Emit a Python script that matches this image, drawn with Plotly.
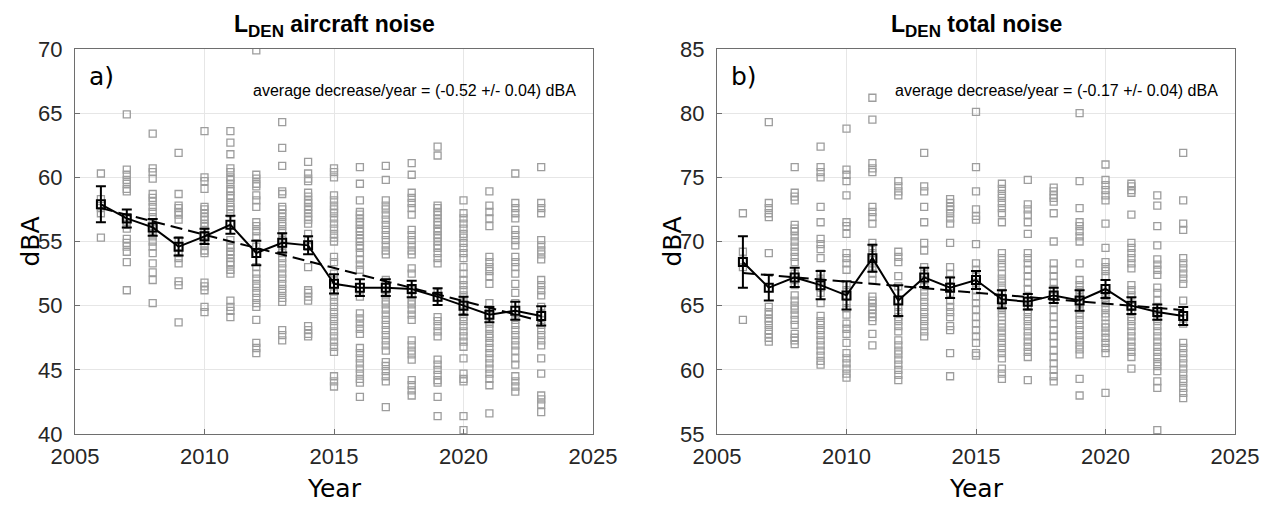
import plotly.graph_objects as go

# Page is 1271x506; the HTML body adds an 8px margin, so the figure is
# offset by that margin and every page-pixel position is shifted accordingly.
PAGE_W, PAGE_H = 1271, 506
BODY = 8
FW, FH = PAGE_W - BODY, PAGE_H - BODY


def fx(px):
    return (px - BODY) / FW


def fy(py):
    return 1 - (py - BODY) / FH


years = list(range(2006, 2024))

# ---------- a) aircraft noise: individual values per year ----------
air_pts = {
    2006: [60.3, 58.3, 57.6, 57.2, 55.3],
    2007: [64.9, 60.6, 60.2, 59.8, 59.5, 59.1, 58.9, 56.9, 56.5, 56.3, 56.0, 55.2, 54.9, 54.6, 54.2, 53.4, 51.2],
    2008: [63.4, 60.7, 60.4, 59.9, 58.7, 58.4, 58.1, 57.7, 57.3, 56.9, 56.5, 56.2, 55.8, 55.4, 55.0, 54.6, 54.1, 53.3, 52.6, 52.0, 50.2],
    2009: [61.9, 58.7, 57.8, 57.6, 57.3, 57.1, 56.7, 55.1, 54.6, 54.1, 53.7, 53.3, 51.9, 51.6, 48.7],
    2010: [63.6, 60.0, 59.7, 59.1, 57.7, 57.5, 57.2, 56.9, 56.7, 56.4, 56.2, 55.9, 55.5, 55.1, 54.7, 54.3, 54.1, 51.8, 51.5, 51.2, 49.9, 49.5],
    2011: [63.6, 62.7, 61.8, 60.7, 60.4, 60.0, 59.8, 59.5, 59.1, 58.9, 58.6, 58.4, 58.0, 57.7, 57.5, 57.2, 55.1, 54.7, 54.5, 54.2, 54.0, 53.7, 53.4, 53.2, 52.8, 52.5, 50.4, 49.9, 49.6, 49.1],
    2012: [69.9, 60.2, 59.9, 59.5, 59.3, 58.6, 58.2, 57.7, 56.5, 56.2, 55.8, 55.4, 54.6, 54.1, 53.0, 52.5, 52.1, 51.7, 51.4, 51.0, 50.6, 50.2, 49.9, 48.9, 47.1, 46.7, 46.3],
    2013: [64.3, 62.3, 60.9, 58.9, 58.7, 57.7, 57.5, 57.2, 56.9, 56.5, 56.2, 55.8, 55.4, 55.1, 54.7, 54.3, 54.1, 53.7, 53.3, 52.9, 52.5, 52.1, 51.7, 51.3, 51.0, 50.6, 50.3, 48.1, 47.7, 47.3],
    2014: [61.2, 60.3, 59.9, 59.7, 58.8, 58.5, 58.2, 58.0, 57.7, 57.5, 57.2, 56.9, 56.7, 56.4, 55.6, 55.1, 54.6, 53.0, 51.2, 51.0, 50.7, 50.4, 48.4, 48.1, 47.8, 47.6],
    2015: [60.7, 60.4, 60.0, 58.6, 58.2, 57.8, 57.5, 57.2, 56.8, 56.4, 56.0, 55.6, 55.3, 55.0, 53.8, 53.4, 52.5, 52.0, 51.5, 51.1, 50.7, 50.3, 49.9, 49.5, 49.1, 48.8, 48.4, 48.0, 47.6, 47.2, 46.8, 46.4, 44.5, 44.1, 43.7],
    2016: [60.8, 59.5, 58.2, 57.3, 57.1, 56.8, 56.5, 56.3, 56.0, 55.8, 55.5, 55.2, 55.0, 54.7, 54.5, 54.1, 53.6, 53.2, 52.8, 51.1, 50.7, 49.4, 49.0, 48.6, 48.2, 47.8, 46.7, 46.3, 45.9, 45.5, 45.1, 44.7, 44.3, 44.0, 42.9],
    2017: [60.9, 59.8, 58.2, 57.8, 57.5, 57.1, 56.7, 56.3, 55.9, 55.5, 55.1, 54.7, 54.3, 54.0, 52.0, 51.6, 51.2, 50.8, 50.4, 50.1, 49.7, 49.3, 48.9, 48.5, 48.1, 47.7, 47.3, 46.9, 46.5, 45.6, 45.3, 44.9, 44.5, 44.1, 42.1],
    2018: [61.1, 60.2, 58.8, 58.4, 58.0, 57.6, 57.1, 55.9, 55.5, 55.1, 54.7, 54.3, 54.0, 52.9, 52.5, 51.2, 50.8, 50.4, 50.1, 49.7, 49.3, 48.9, 47.3, 46.9, 46.5, 46.2, 45.8, 44.2, 43.8, 43.4, 43.0],
    2019: [62.4, 61.7, 57.8, 57.6, 57.3, 57.1, 56.8, 56.5, 56.3, 56.0, 55.8, 55.5, 55.3, 55.0, 54.7, 54.5, 54.1, 53.7, 53.3, 51.0, 50.6, 49.1, 48.8, 48.4, 48.0, 47.6, 45.8, 45.4, 45.0, 44.6, 44.2, 44.0, 42.9, 41.4],
    2020: [58.2, 57.2, 56.8, 56.4, 56.0, 55.6, 55.3, 54.9, 54.5, 54.1, 53.7, 53.0, 52.5, 52.0, 51.6, 51.2, 50.8, 50.4, 50.1, 49.5, 49.1, 48.8, 48.4, 48.0, 47.6, 47.2, 46.8, 45.9, 44.7, 44.3, 44.1, 41.4, 40.3],
    2021: [58.9, 57.8, 57.3, 56.8, 56.2, 53.8, 53.4, 53.0, 52.7, 52.3, 51.7, 50.2, 49.7, 49.3, 48.6, 48.2, 47.8, 47.5, 47.1, 46.7, 46.3, 45.9, 45.5, 45.1, 44.7, 44.3, 43.8, 41.6],
    2022: [60.3, 58.0, 57.6, 57.2, 56.8, 55.9, 55.5, 55.1, 54.7, 53.8, 53.4, 53.0, 52.5, 51.7, 51.0, 50.2, 49.3, 48.9, 48.5, 48.1, 47.7, 47.3, 46.9, 46.5, 45.9, 45.4, 44.5, 44.1, 43.7, 43.3],
    2023: [60.8, 58.0, 57.6, 57.2, 55.1, 54.7, 54.3, 54.0, 53.6, 52.0, 51.6, 51.2, 50.8, 49.9, 49.4, 48.9, 48.5, 48.1, 47.7, 47.3, 46.9, 45.9, 44.7, 43.0, 42.7, 42.3, 41.7],
}
air_mean = [57.9, 56.8, 56.1, 54.6, 55.4, 56.3, 54.1, 54.9, 54.7, 51.7, 51.4, 51.4, 51.3, 50.7, 50.0, 49.3, 49.6, 49.2]
air_err = [1.4, 0.7, 0.65, 0.7, 0.6, 0.7, 0.95, 0.75, 0.7, 0.75, 0.65, 0.65, 0.65, 0.65, 0.7, 0.6, 0.7, 0.75]
air_trend_years = [2006, 2023]
air_trend = [57.6, 48.8]

# ---------- b) total noise ----------
tot_pts = {
    2006: [72.2, 69.2, 68.5, 68.0, 63.9],
    2007: [79.3, 73.0, 72.6, 72.2, 71.9, 69.1, 64.9, 64.5, 64.3, 64.0, 63.8, 63.5, 63.1, 62.8, 62.5, 62.2],
    2008: [75.8, 73.8, 73.5, 73.2, 71.3, 71.0, 70.8, 70.4, 70.0, 69.6, 69.2, 68.8, 68.4, 67.5, 67.0, 66.6, 65.8, 65.4, 65.0, 64.7, 64.3, 63.9, 63.5, 62.8, 62.5, 62.3, 62.0],
    2009: [77.4, 75.8, 75.4, 75.0, 72.7, 71.5, 70.2, 69.8, 69.4, 68.7, 67.5, 67.1, 66.8, 66.4, 66.0, 65.2, 64.2, 63.8, 63.5, 63.1, 62.7, 62.3, 61.9, 61.5, 61.1, 60.7, 60.4],
    2010: [78.8, 75.6, 75.2, 74.7, 73.6, 71.5, 71.2, 70.6, 69.1, 68.7, 68.3, 67.8, 66.6, 66.2, 65.7, 65.2, 64.8, 64.3, 63.6, 63.2, 62.8, 62.1, 61.3, 60.9, 60.5, 60.1, 59.7, 59.4],
    2011: [81.2, 79.5, 76.1, 75.7, 75.4, 72.7, 72.3, 71.9, 71.4, 69.9, 69.5, 69.1, 68.7, 68.3, 67.9, 67.5, 67.0, 65.7, 65.4, 65.2, 64.9, 64.7, 64.4, 64.1, 63.8, 62.8, 61.9],
    2012: [74.7, 74.3, 73.9, 73.6, 69.2, 68.8, 68.4, 67.3, 66.5, 64.9, 64.5, 64.1, 63.8, 63.4, 63.0, 62.3, 61.9, 61.5, 61.2, 60.8, 60.4, 60.0, 59.6, 59.2],
    2013: [76.9, 74.3, 73.9, 72.7, 71.5, 69.9, 69.3, 68.0, 67.5, 67.0, 66.5, 66.1, 65.7, 65.3, 64.9, 64.5, 64.1, 63.8, 63.4, 63.0, 62.6],
    2014: [73.3, 73.0, 72.7, 72.5, 72.2, 71.8, 71.4, 69.9, 68.0, 67.5, 67.0, 66.5, 66.0, 65.4, 64.9, 64.5, 64.1, 63.4, 63.1, 61.3, 59.5],
    2015: [80.1, 75.8, 73.9, 72.5, 72.0, 71.7, 69.8, 68.3, 67.8, 67.3, 66.8, 66.2, 65.7, 65.2, 64.7, 64.1, 63.6, 63.1, 62.6, 62.1, 61.3, 61.1],
    2016: [74.5, 74.1, 73.7, 73.4, 73.0, 72.6, 72.2, 71.5, 69.1, 68.7, 68.3, 68.0, 67.5, 67.1, 66.8, 66.4, 66.0, 65.6, 65.2, 64.8, 64.4, 64.1, 63.6, 63.3, 62.9, 62.5, 62.1, 61.7, 61.3, 60.9, 60.1, 59.7, 59.3],
    2017: [74.8, 72.9, 72.5, 72.1, 71.5, 70.6, 69.1, 68.7, 68.3, 67.8, 67.3, 66.8, 66.3, 65.7, 65.4, 64.9, 64.5, 64.1, 63.8, 63.4, 63.0, 62.6, 62.2, 61.8, 61.4, 61.0, 59.2],
    2018: [74.2, 73.9, 73.6, 73.4, 73.1, 72.2, 70.0, 68.3, 67.8, 67.3, 66.8, 66.3, 65.7, 65.2, 64.7, 64.1, 63.6, 63.1, 62.6, 62.1, 61.5, 61.0, 60.5, 60.0, 59.5, 59.1],
    2019: [80.0, 74.7, 72.6, 71.5, 71.2, 70.8, 70.4, 70.0, 68.3, 67.0, 66.6, 66.2, 65.8, 65.4, 65.1, 64.7, 64.3, 63.9, 63.5, 63.1, 62.7, 62.3, 61.9, 61.6, 61.2, 59.3, 58.0],
    2020: [76.0, 74.8, 74.4, 74.0, 73.6, 73.2, 71.4, 69.5, 68.4, 68.0, 67.7, 67.3, 66.0, 65.6, 65.2, 64.8, 64.4, 64.1, 63.6, 63.3, 62.9, 62.5, 62.1, 61.7, 61.3, 58.2],
    2021: [74.5, 74.3, 74.0, 73.8, 72.1, 69.9, 69.5, 69.1, 68.7, 68.3, 67.9, 66.6, 66.2, 65.8, 64.9, 64.5, 64.1, 63.8, 63.4, 63.0, 62.6, 62.2, 61.8, 61.4, 61.0, 60.1],
    2022: [73.6, 72.8, 71.2, 69.7, 68.6, 68.2, 67.8, 67.4, 66.4, 66.0, 65.4, 64.9, 64.5, 64.1, 63.8, 63.4, 63.0, 62.6, 62.2, 61.8, 61.4, 61.0, 60.6, 60.3, 59.9, 59.1, 58.6, 55.3],
    2023: [76.9, 73.2, 71.4, 70.9, 68.7, 68.3, 67.9, 67.5, 67.1, 66.7, 65.4, 64.0, 63.6, 62.1, 61.7, 61.3, 60.9, 60.5, 60.1, 59.7, 59.3, 59.0, 58.6, 58.2, 57.8],
}
tot_mean = [68.4, 66.4, 67.2, 66.6, 65.8, 68.7, 65.4, 67.2, 66.4, 67.0, 65.5, 65.3, 65.8, 65.4, 66.3, 65.0, 64.5, 64.2]
tot_err = [2.0, 1.0, 0.75, 1.1, 1.1, 1.05, 1.2, 0.75, 0.8, 0.7, 0.7, 0.6, 0.6, 0.8, 0.7, 0.65, 0.6, 0.7]
tot_trend_years = [2006, 2023]
tot_trend = [67.55, 64.65]

titles = ["<b>L<sub><span style='font-size:17px'>DEN</span></sub> aircraft noise</b>",
          "<b>L<sub><span style='font-size:17px'>DEN</span></sub> total noise</b>"]
panel_labels = ["a)", "b)"]
slope_texts = ["average decrease/year = (-0.52 +/- 0.04) dBA",
               "average decrease/year = (-0.17 +/- 0.04) dBA"]
x_title = "Year"
y_title = "dBA"
x_ticks = [2005, 2010, 2015, 2020, 2025]
y_ranges = [[40, 70], [55, 85]]

# ---------- layout geometry (page pixels) ----------
px_left = [75, 717]
px_right = [593, 1235]
px_top, px_bot = 49, 434

fig = go.Figure()

panels = [(air_pts, air_mean, air_err, air_trend_years, air_trend),
          (tot_pts, tot_mean, tot_err, tot_trend_years, tot_trend)]

for i, (pts, mean, err, ty, tv) in enumerate(panels):
    xa = "x" if i == 0 else "x2"
    ya = "y" if i == 0 else "y2"
    xs, ys = [], []
    for yr in years:
        for v in pts[yr]:
            xs.append(yr)
            ys.append(v)
    fig.add_trace(go.Scatter(
        x=xs, y=ys, mode="markers", xaxis=xa, yaxis=ya, showlegend=False,
        marker=dict(symbol="square-open", size=7, color="#9d9d9d",
                    line=dict(width=1.3, color="#9d9d9d")),
        hoverinfo="x+y"))
    fig.add_trace(go.Scatter(
        x=ty, y=tv, mode="lines", xaxis=xa, yaxis=ya, showlegend=False,
        line=dict(color="black", width=2, dash="12px,6px")))
    fig.add_trace(go.Scatter(
        x=years, y=mean, mode="lines+markers", xaxis=xa, yaxis=ya, showlegend=False,
        line=dict(color="black", width=2),
        marker=dict(symbol="square-open", size=8, color="black",
                    line=dict(width=2, color="black")),
        error_y=dict(type="data", array=err, visible=True, color="black",
                     thickness=2, width=5)))

axis_common = dict(
    showline=True, mirror=True, linecolor="#6e6e6e", linewidth=1,
    ticks="inside", ticklen=5, tickcolor="#6e6e6e",
    showgrid=True, gridcolor="#e6e6e6", gridwidth=1, zeroline=False,
    automargin=False,
    tickfont=dict(family="Liberation Sans, Arial, sans-serif", size=22, color="#262626"),
)
label_font = dict(family="DejaVu Sans, sans-serif", size=25, color="black")

layout = dict(
    width=FW, height=FH, autosize=False,
    margin=dict(l=0, r=0, t=0, b=0),
    paper_bgcolor="white", plot_bgcolor="white",
    showlegend=False,
)
for i in range(2):
    sfx = "" if i == 0 else "2"
    layout["xaxis" + sfx] = dict(
        axis_common, domain=[fx(px_left[i]), fx(px_right[i])], range=[2005, 2025],
        tickvals=x_ticks, anchor="y" + sfx, ticklabelstandoff=3)
    layout["yaxis" + sfx] = dict(
        axis_common, domain=[fy(px_bot), fy(px_top)], range=y_ranges[i],
        dtick=5, anchor="x" + sfx, ticklabelstandoff=7)

fig.update_layout(**layout)

ann_font = "Liberation Sans, Arial, sans-serif"
for i in range(2):
    cx = (px_left[i] + px_right[i]) / 2
    fig.add_annotation(x=fx(cx), y=fy(26), xref="paper", yref="paper",
                       text=titles[i], showarrow=False, xanchor="center", yanchor="middle",
                       font=dict(family=ann_font, size=23, color="black"))
    fig.add_annotation(x=fx(px_left[i] + 12), y=fy(77), xref="paper", yref="paper",
                       text=panel_labels[i], showarrow=False, xanchor="left", yanchor="middle",
                       font=dict(family="DejaVu Sans, sans-serif", size=25, color="black"))
    fig.add_annotation(x=fx(px_right[i] - 15), y=fy(91), xref="paper", yref="paper",
                       text=slope_texts[i], showarrow=False, xanchor="right", yanchor="middle",
                       font=dict(family=ann_font, size=16, color="black"))
    fig.add_annotation(x=fx(cx), y=fy(488), xref="paper", yref="paper",
                       text=x_title, showarrow=False, xanchor="center", yanchor="middle",
                       font=label_font)
    fig.add_annotation(x=fx(px_left[i] - 45), y=fy((px_top + px_bot) / 2),
                       xref="paper", yref="paper", text=y_title, textangle=-90,
                       showarrow=False, xanchor="center", yanchor="middle",
                       font=label_font)

fig.write_html("out.html")
